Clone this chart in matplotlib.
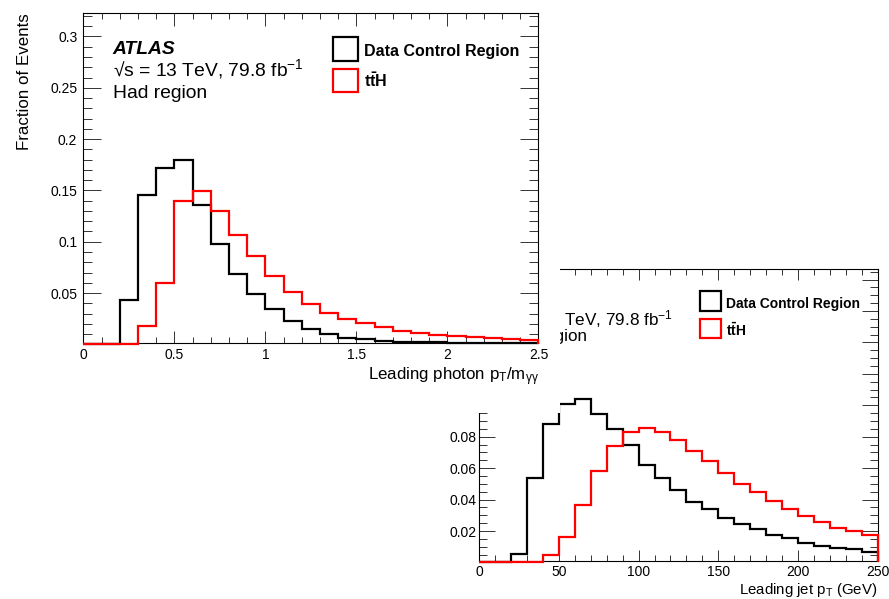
import numpy as np
import matplotlib
matplotlib.use("Agg")
import matplotlib.pyplot as plt
from matplotlib.patches import Rectangle
from matplotlib.ticker import MultipleLocator, FuncFormatter

plt.rcParams['font.family'] = ['Liberation Sans', 'DejaVu Sans']
plt.rcParams['mathtext.fontset'] = 'custom'
plt.rcParams['mathtext.rm'] = 'Liberation Sans'
plt.rcParams['mathtext.it'] = 'Liberation Sans:italic'
plt.rcParams['mathtext.bf'] = 'Liberation Sans:bold'

# Leading photon pT / m_yy, 25 bins of 0.1
photon_edges = np.linspace(0.0, 2.5, 26)
photon_data = [0, 0, 0.043, 0.146, 0.172, 0.180, 0.136, 0.098, 0.069, 0.0487,
               0.034, 0.023, 0.0146, 0.010, 0.0065, 0.0049, 0.0036, 0.0026, 0.0023,
               0.0018, 0.0015, 0.0013, 0.0011, 0.0010, 0.0009]
photon_tth = [0, 0, 0, 0.018, 0.060, 0.140, 0.149, 0.130, 0.107, 0.0857,
              0.0666, 0.0513, 0.0396, 0.0308, 0.0247, 0.0205, 0.0166, 0.0133, 0.011,
              0.0094, 0.0081, 0.0068, 0.0058, 0.0049, 0.0039]

# Leading jet pT [GeV], 25 bins of 10 GeV
jet_edges = np.linspace(0, 250, 26)
jet_data = [0, 0, 0.0051, 0.054, 0.0884, 0.1008, 0.1038, 0.0944, 0.0852, 0.075,
            0.0623, 0.054, 0.0464, 0.0384, 0.0343, 0.0282, 0.0244, 0.0214, 0.0176,
            0.0153, 0.0125, 0.0106, 0.0091, 0.0083, 0.0068]
jet_tth = [0, 0, 0, 0, 0.0049, 0.0163, 0.0367, 0.0579, 0.0744, 0.0827,
           0.0854, 0.0833, 0.0778, 0.0712, 0.0647, 0.057, 0.0502, 0.0447, 0.0388,
           0.0341, 0.0293, 0.0257, 0.0220, 0.0197, 0.0172]

legend_labels = ["Data Control Region", r"$\mathbf{t\bar{t}H}$"]
atlas_lines = ["ATLAS", "√s = 13 TeV, 79.8 fb$^{-1}$", "Had region"]

RED = '#ff0000'


def draw_panel(ax, edges, data, tth, xlabel, ylabel, ylim, xmaj, xmin, ymaj, ymin,
               s, tick_len, ypad, xpad, atlas_x, atlas_y, leg, ylab_max=None):
    ax.stairs(data, edges, color='black', lw=1.6, clip_on=False, zorder=3)
    ax.stairs(tth, edges, color=RED, lw=1.6, clip_on=False, zorder=3)
    ax.set_xlim(edges[0], edges[-1])
    ax.set_ylim(*ylim)

    fmt = FuncFormatter(lambda v, p: f"{v:g}")
    # y labels that end up under the other canvas are not printed
    yfmt = FuncFormatter(lambda v, p: f"{v:g}" if ylab_max is None or v < ylab_max else "")
    ax.xaxis.set_major_locator(MultipleLocator(xmaj))
    ax.xaxis.set_minor_locator(MultipleLocator(xmin))
    ax.yaxis.set_major_locator(MultipleLocator(ymaj))
    ax.yaxis.set_minor_locator(MultipleLocator(ymin))
    ax.xaxis.set_major_formatter(fmt)
    ax.yaxis.set_major_formatter(yfmt)

    xl_maj, xl_min, yl_maj, yl_min = tick_len
    ax.tick_params(axis='both', which='both', direction='in', top=True, right=True,
                   width=0.7, color='#333333', labelsize=10)
    ax.tick_params(axis='x', which='major', length=xl_maj, pad=xpad)
    ax.tick_params(axis='x', which='minor', length=xl_min)
    ax.tick_params(axis='y', which='major', length=yl_maj, pad=ypad)
    ax.tick_params(axis='y', which='minor', length=yl_min)
    for sp in ax.spines.values():
        sp.set_linewidth(0.8)

    ax.text(1.0, -0.113, xlabel, transform=ax.transAxes, ha='right', va='baseline',
            fontsize=12.2 * s)
    if ylabel:
        ax.text(-0.129, 1.0, ylabel, transform=ax.transAxes, rotation=90,
                ha='center', va='top', fontsize=12.2 * s)

    # ATLAS label block
    ax.text(atlas_x, atlas_y[0], atlas_lines[0], transform=ax.transAxes,
            fontsize=13.9 * s, fontweight='bold', fontstyle='italic', va='baseline')
    ax.text(atlas_x, atlas_y[1], atlas_lines[1], transform=ax.transAxes,
            fontsize=13.9 * s, va='baseline')
    ax.text(atlas_x, atlas_y[2], atlas_lines[2], transform=ax.transAxes,
            fontsize=13.9 * s, va='baseline')

    # legend drawn by hand, ROOT style open boxes
    bx0, bx1, boxes, tx, tys, lsize = leg
    for (y0, y1), col, lab, ty in zip(boxes, ['black', RED], legend_labels, tys):
        ax.add_patch(Rectangle((bx0, y0), bx1 - bx0, y1 - y0, transform=ax.transAxes,
                               fill=False, edgecolor=col, lw=1.6, clip_on=False, zorder=4))
        ax.text(tx, ty, lab, transform=ax.transAxes, fontsize=lsize,
                fontweight='bold', va='baseline')


fig = plt.figure(figsize=(8.89, 5.99), dpi=100)

# jet pT panel sits underneath, partly hidden by the photon panel
# (its y title is fully covered there, so it is left out)
ax2 = fig.add_axes([0.5391, 0.0634, 0.4481, 0.4875])
ax2.set_zorder(0)
draw_panel(ax2, jet_edges, jet_data, jet_tth, r"Leading jet p$_{\mathrm{T}}$ (GeV)", None,
           (0.0009, 0.1867), 50, 10, 0.02, 0.005, 0.89,
           (8, 4, 11.3, 5.7), 2.0, 3.0, 0.060, (0.880, 0.808, 0.752),
           (0.554, 0.607, [(0.856, 0.925), (0.764, 0.829)], 0.619, (0.866, 0.771), 10.0),
           ylab_max=0.09)

# white canvas of the photon panel, 560 x 413 px in the top-left corner
cover = Rectangle((0, (599 - 413) / 599), 560 / 889, 413 / 599,
                  transform=fig.transFigure, facecolor='white', edgecolor='none', zorder=1)
fig.patches.append(cover)

ax1 = fig.add_axes([0.0937, 0.4279, 0.5120, 0.5499])
ax1.set_zorder(2)
draw_panel(ax1, photon_edges, photon_data, photon_tth,
           r"Leading photon p$_{\mathrm{T}}$/m$_{\mathrm{\gamma\gamma}}$", "Fraction of Events",
           (0.0016, 0.3226), 0.5, 0.1, 0.05, 0.01, 1.0,
           (9, 4.5, 12.7, 6.3), 4.3, 3.8, 0.065, (0.8765, 0.8094, 0.742),
           (0.549, 0.604, [(0.856, 0.927), (0.762, 0.830)], 0.617, (0.870, 0.777), 11.5))

fig.savefig("out.png", dpi=100)
